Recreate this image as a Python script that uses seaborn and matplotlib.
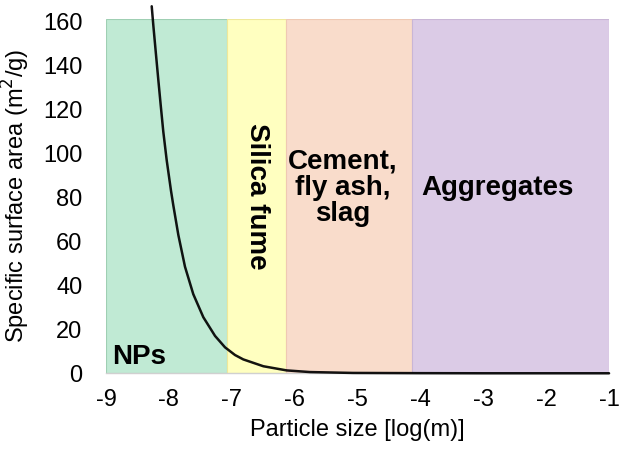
import matplotlib
matplotlib.use("Agg")
import matplotlib.pyplot as plt
import seaborn as sns
import pandas as pd

# Curve values
log_size = [-8.273, -8.248, -8.205, -8.168, -8.130, -8.089, -8.035, -7.966,
            -7.930, -7.850, -7.744, -7.612, -7.452, -7.266, -7.107, -6.948,
            -6.816, -6.498, -6.126, -5.755, -5.07, -4.0, -3.0, -2.0, -1.0]
ssa = [167.0, 158.5, 145.0, 133.5, 122.0, 110.0, 97.0, 83.0,
       76.5, 63.0, 48.5, 36.0, 25.5, 17.0, 11.8, 8.3,
       6.3, 3.2, 1.3, 0.55, 0.15, 0.05, 0.0, 0.0, 0.0]

# Size ranges
region_names = ["NPs", "Silica fume", "Cement,\nfly ash,\nslag", "Aggregates"]
region_start = [-9.0, -7.07, -6.13, -4.13]
region_end = [-7.07, -6.13, -4.13, -1.0]
region_colors = ["#c0ead4", "#ffffc0", "#f9dccb", "#dbcbe6"]
region_edges = ["#9fcfb3", "#efe89a", "#efc9b3", "#c9b6d6"]

x_ticks = [-9, -8, -7, -6, -5, -4, -3, -2, -1]
y_ticks = [0, 20, 40, 60, 80, 100, 120, 140, 160]

sns.set_theme(style="white")
plt.rcParams["font.family"] = ["Liberation Sans", "DejaVu Sans"]
plt.rcParams["text.color"] = "black"
plt.rcParams["axes.labelcolor"] = "black"
plt.rcParams["xtick.color"] = "black"
plt.rcParams["ytick.color"] = "black"

fig = plt.figure(figsize=(6.21, 4.53), dpi=100)
ax = fig.add_axes([0.1707, 0.176, 0.81, 0.782])

for s, e, c, ec in zip(region_start, region_end, region_colors, region_edges):
    ax.axvspan(s, e, facecolor=c, edgecolor=ec, lw=0.8, zorder=1)

df = pd.DataFrame({"x": log_size, "y": ssa})
sns.lineplot(data=df, x="x", y="y", ax=ax, color="black", lw=1.8,
             alpha=0.92, zorder=3, clip_on=False, sort=False)

ax.set_xlim(-9, -1)
ax.set_ylim(0, 161.2)
ax.set_xticks(x_ticks)
ax.set_xticklabels([str(t) for t in x_ticks])
ax.set_yticks(y_ticks)
ax.set_yticklabels([str(t) for t in y_ticks])
ax.tick_params(axis="x", length=0, pad=11, labelsize=17)
ax.tick_params(axis="y", length=0, pad=17, labelsize=17)
ax.set_xlabel("Particle size [log(m)]", fontsize=17, labelpad=6)
ax.set_ylabel("Specific surface area (m$^2$/g)", fontsize=17, labelpad=8)

for sp in ["top", "right", "left"]:
    ax.spines[sp].set_visible(False)
ax.spines["bottom"].set_color("#d0d0d0")
ax.spines["bottom"].set_linewidth(1.0)

ax.text(-8.9, 7.5, region_names[0], fontsize=20, fontweight="bold",
        ha="left", va="center", zorder=4)
ax.text(-6.60, 80.4, region_names[1], fontsize=20, fontweight="bold",
        ha="center", va="center", rotation=-90, zorder=4)
ax.text(-5.23, 84.4, region_names[2], fontsize=20, fontweight="bold",
        ha="center", va="center", linespacing=1.0, zorder=4)
ax.text(-2.78, 84.3, region_names[3], fontsize=20, fontweight="bold",
        ha="center", va="center", zorder=4)

fig.savefig("out.png", dpi=100)
